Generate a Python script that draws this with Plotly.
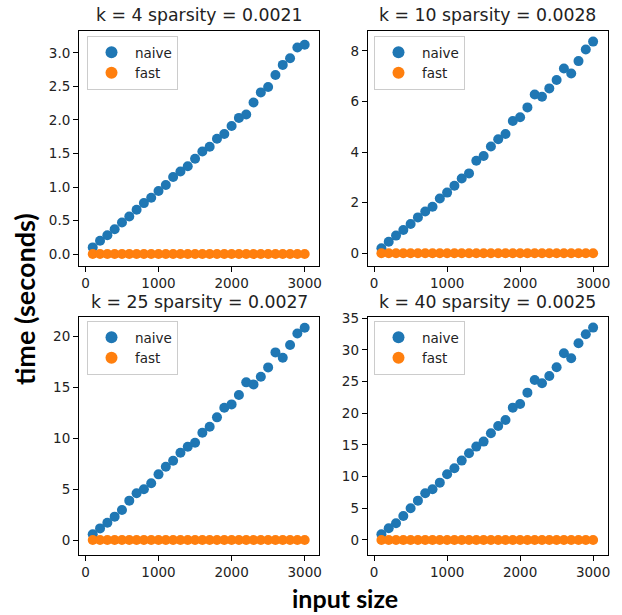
import plotly.graph_objects as go

# ---------------- data ----------------
input_size = [100, 200, 300, 400, 500, 600, 700, 800, 900, 1000,
              1100, 1200, 1300, 1400, 1500, 1600, 1700, 1800, 1900, 2000,
              2100, 2200, 2300, 2400, 2500, 2600, 2700, 2800, 2900, 3000]

naive_k4 = [0.10, 0.20, 0.28, 0.37, 0.47, 0.56, 0.66, 0.76, 0.84, 0.94,
            1.03, 1.15, 1.23, 1.31, 1.42, 1.53, 1.60, 1.72, 1.79, 1.91,
            2.03, 2.08, 2.26, 2.41, 2.49, 2.67, 2.82, 2.92, 3.08, 3.12]
fast_k4 = [0.001, 0.001, 0.001, 0.001, 0.001, 0.001, 0.001, 0.001, 0.001, 0.001,
           0.001, 0.001, 0.001, 0.001, 0.001, 0.001, 0.001, 0.001, 0.001, 0.001,
           0.001, 0.001, 0.001, 0.001, 0.001, 0.001, 0.001, 0.001, 0.001, 0.001]

naive_k10 = [0.20, 0.46, 0.70, 0.92, 1.16, 1.42, 1.65, 1.84, 2.17, 2.40,
             2.67, 2.96, 3.16, 3.66, 3.85, 4.22, 4.51, 4.72, 5.23, 5.38,
             5.77, 6.28, 6.19, 6.52, 6.85, 7.31, 7.11, 7.60, 8.06, 8.37]
fast_k10 = [0.002, 0.002, 0.002, 0.002, 0.002, 0.002, 0.002, 0.002, 0.002, 0.002,
            0.002, 0.002, 0.002, 0.002, 0.002, 0.002, 0.002, 0.002, 0.002, 0.002,
            0.002, 0.002, 0.002, 0.002, 0.002, 0.002, 0.002, 0.002, 0.002, 0.002]

naive_k25 = [0.56, 1.14, 1.70, 2.29, 2.94, 3.86, 4.58, 4.97, 5.56, 6.44,
             7.19, 7.78, 8.56, 9.15, 9.54, 10.52, 11.11, 12.03, 12.97, 13.30,
             14.22, 15.46, 15.26, 16.01, 16.93, 18.40, 17.88, 19.12, 20.26, 20.82]
fast_k25 = [0.004, 0.004, 0.004, 0.004, 0.004, 0.004, 0.004, 0.004, 0.004, 0.004,
            0.004, 0.004, 0.004, 0.004, 0.004, 0.004, 0.004, 0.004, 0.004, 0.004,
            0.004, 0.004, 0.004, 0.004, 0.004, 0.004, 0.004, 0.004, 0.004, 0.004]

naive_k40 = [0.89, 1.84, 2.63, 3.79, 5.00, 6.21, 7.37, 8.00, 9.05, 10.37,
             11.32, 12.53, 13.68, 14.74, 15.53, 16.84, 18.00, 18.95, 20.89, 21.47,
             23.26, 25.26, 24.74, 25.89, 27.26, 29.47, 28.68, 31.05, 32.47, 33.53]
fast_k40 = [0.006, 0.006, 0.006, 0.006, 0.006, 0.006, 0.006, 0.006, 0.006, 0.006,
            0.006, 0.006, 0.006, 0.006, 0.006, 0.006, 0.006, 0.006, 0.006, 0.006,
            0.006, 0.006, 0.006, 0.006, 0.006, 0.006, 0.006, 0.006, 0.006, 0.006]

panel_titles = ["k = 4 sparsity = 0.0021", "k = 10 sparsity = 0.0028",
                "k = 25 sparsity = 0.0027", "k = 40 sparsity = 0.0025"]
x_ticks = [0, 1000, 2000, 3000]
y_ticks = [[0.0, 0.5, 1.0, 1.5, 2.0, 2.5, 3.0],
           [0, 2, 4, 6, 8],
           [0, 5, 10, 15, 20],
           [0, 5, 10, 15, 20, 25, 30, 35]]
y_tick_text = [["0.0", "0.5", "1.0", "1.5", "2.0", "2.5", "3.0"],
               ["0", "2", "4", "6", "8"],
               ["0", "5", "10", "15", "20"],
               ["0", "5", "10", "15", "20", "25", "30", "35"]]
naive_series = [naive_k4, naive_k10, naive_k25, naive_k40]
fast_series = [fast_k4, fast_k10, fast_k25, fast_k40]

# ---------------- layout geometry ----------------
W, H = 622, 615
BLUE, ORANGE = "#1f77b4", "#ff7f0e"
TICK_FONT = dict(family="DejaVu Sans", size=13.5, color="#222222")

x_domains = [[79 / W, 319.3 / W], [367.7 / W, 607.7 / W]]
y_domains = [[1 - 265.7 / H, 1 - 31 / H], [1 - 555 / H, 1 - 316.7 / H]]
x_range = [-88, 3200]
y_ranges = [[-0.173, 3.325], [-0.49, 8.79], [-1.47, 21.9], [-2.37, 35.25]]
legend_pos = [(87, 36), (374, 36), (87, 321), (374, 321)]
title_y = [15, 301.7]

fig = go.Figure()
layout = dict(width=W, height=H, margin=dict(l=0, r=0, t=0, b=0, pad=0, autoexpand=False),
              paper_bgcolor="white", plot_bgcolor="white", showlegend=True,
              annotations=[])

for i in range(4):
    row, col = divmod(i, 2)
    ax = "" if i == 0 else str(i + 1)
    xref, yref = "x" + ax, "y" + ax
    leg = "legend" + ax
    fig.add_trace(go.Scatter(x=input_size, y=naive_series[i], mode="markers", name="naive",
                             marker=dict(color=BLUE, size=10, line=dict(width=0)),
                             xaxis=xref, yaxis=yref, legend=leg))
    fig.add_trace(go.Scatter(x=input_size, y=fast_series[i], mode="markers", name="fast",
                             marker=dict(color=ORANGE, size=10, line=dict(width=0)),
                             xaxis=xref, yaxis=yref, legend=leg))
    axis_common = dict(showline=True, mirror=True, linecolor="black", linewidth=1,
                       showgrid=False, zeroline=False, ticks="outside", automargin=False,
                       ticklen=5, tickcolor="black", tickwidth=1, tickfont=TICK_FONT)
    layout["xaxis" + ax] = dict(domain=x_domains[col], range=x_range, tickvals=x_ticks,
                                ticktext=[str(v) for v in x_ticks], anchor=yref, **axis_common)
    layout["yaxis" + ax] = dict(domain=y_domains[row], range=y_ranges[i], tickvals=y_ticks[i],
                                ticktext=y_tick_text[i], anchor=xref, **axis_common)
    lx, ly = legend_pos[i]
    layout[leg] = dict(x=lx / W, y=1 - ly / H, xanchor="left", yanchor="top",
                       xref="paper", yref="paper", bgcolor="rgba(255,255,255,0.8)",
                       bordercolor="#cccccc", borderwidth=1,
                       font=dict(family="DejaVu Sans", size=13.5, color="#222222"),
                       itemsizing="constant", itemwidth=37, tracegroupgap=0)
    cx = (x_domains[col][0] + x_domains[col][1]) / 2
    layout["annotations"].append(dict(text=panel_titles[i], x=cx, y=1 - title_y[row] / H,
                                      xref="paper", yref="paper", xanchor="center",
                                      yanchor="middle", showarrow=False,
                                      font=dict(family="DejaVu Sans", size=17.3, color="#222222")))

layout["annotations"].append(dict(text="<b>time (seconds)</b>", x=24 / W, y=1 - 299 / H,
                                  xref="paper", yref="paper", xanchor="center", yanchor="middle",
                                  textangle=-90, showarrow=False,
                                  font=dict(family="Lato", size=27, color="black")))
layout["annotations"].append(dict(text="<b>input size</b>", x=345 / W, y=1 - 598 / H,
                                  xref="paper", yref="paper", xanchor="center", yanchor="middle",
                                  showarrow=False, font=dict(family="Lato", size=25, color="black")))

fig.update_layout(**layout)
fig.write_html("out.html", config={"displayModeBar": False},
               post_script="document.body.style.margin='0';document.body.style.overflow='hidden';")
